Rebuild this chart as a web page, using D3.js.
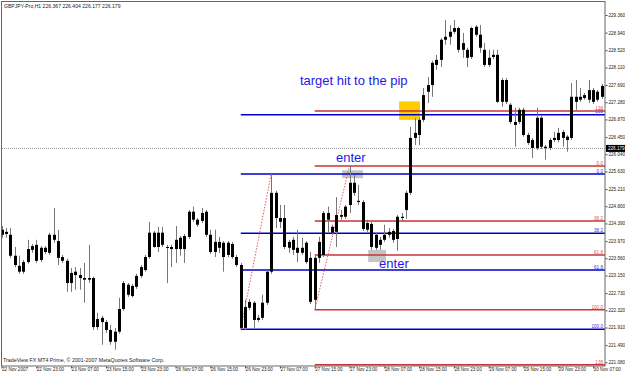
<!DOCTYPE html>
<html>
<head>
<meta charset="utf-8">
<script src="https://cdn.jsdelivr.net/npm/d3@7"></script>
<style>
  body { margin: 0; background: #fff; }
  svg { display: block; font-family: "Liberation Sans", Arial, sans-serif; }
</style>
</head>
<body>
<div id="chart"></div>
<script>
const width = 625;
const height = 375;

// header of the window
const symbol = 'GBPJPY-Pro,H1';
const lastOHLC = ['226.367', '226.404', '226.177', '226.179'];
const bid = 226.179;
const copyright = 'TradeView FX MT4 Prime, \u00a9 2001-2007 MetaQuotes Software Corp.';

// H1 candles (bar 0 = 22 Nov 15:00)
const opens = [224.24,224.19,224.12,223.62,223.38,223.24,223.47,223.76,223.88,223.52,
  223.81,223.69,224.12,223.97,223.59,223.50,222.97,223.24,223.16,223.09,
  223.09,223.09,221.92,222.14,222.04,221.85,221.57,221.81,222.35,222.93,
  222.66,222.88,223.14,223.28,223.59,224.17,223.83,224.17,223.83,223.78,
  223.78,223.78,223.78,224.07,224.67,224.48,224.45,224.67,224.12,223.71,
  223.95,223.93,223.64,223.90,223.59,223.40,221.90,222.52,222.50,222.09,
  222.14,222.50,223.24,225.12,224.52,224.52,223.95,223.76,223.81,223.69,
  223.93,223.57,222.57,223.57,223.64,224.64,224.31,224.19,224.55,224.55,
  224.83,225.36,224.93,224.90,224.24,224.38,223.81,224.00,224.00,224.12,
  224.21,224.02,224.55,224.71,225.12,226.55,226.50,226.86,227.69,227.69,
  228.29,228.29,228.77,228.84,228.96,229.05,228.53,228.53,228.36,229.08,
  228.89,228.53,228.34,228.36,228.41,227.29,227.81,227.22,226.81,226.81,
  227.10,226.50,226.38,226.19,226.91,226.22,226.19,226.38,226.38,226.57,
  226.46,226.43,227.41,227.34,227.38,227.34,227.57,227.34,227.41];
const highs = [224.33,224.28,224.28,223.83,223.62,223.52,224.00,223.90,224.00,223.85,
  223.85,224.17,224.76,224.24,223.64,223.55,223.33,223.35,223.33,223.45,
  223.88,223.12,222.26,222.19,222.09,221.97,221.90,222.62,223.02,222.97,
  222.95,223.19,223.40,223.64,224.43,224.21,224.31,224.31,223.88,223.88,
  224.33,224.09,224.14,224.71,224.79,224.52,224.76,224.71,224.24,224.24,
  224.07,223.97,223.97,223.95,223.64,223.45,222.57,222.59,222.54,222.21,
  222.69,223.28,225.57,225.17,224.83,224.83,224.00,224.07,224.24,224.05,
  223.97,223.71,223.62,224.07,224.69,224.79,224.36,225.02,224.71,224.83,
  225.76,225.55,225.31,224.95,224.48,224.43,224.17,224.07,224.36,224.28,
  224.26,224.59,224.64,225.17,226.69,226.91,226.91,227.62,227.88,228.27,
  228.41,228.81,229.24,229.12,229.24,229.08,228.93,228.58,229.08,229.12,
  229.12,228.69,228.53,228.53,228.53,227.86,227.86,227.26,227.15,227.15,
  227.15,226.55,226.43,227.15,226.95,226.26,226.43,226.57,226.67,226.62,
  226.50,227.74,227.81,227.62,227.50,227.81,227.62,227.57,227.72];
const lows = [224.05,224.05,223.57,223.35,223.19,223.19,223.43,223.69,223.45,223.47,
  223.66,223.64,223.93,223.40,223.45,222.76,222.76,222.81,222.81,222.50,
  222.97,221.85,221.85,221.50,221.78,221.50,221.38,221.76,222.31,222.64,
  222.62,222.83,223.09,223.24,223.55,223.81,223.71,223.83,222.97,223.35,
  223.45,223.62,223.45,224.02,224.43,224.31,224.40,224.07,223.66,223.59,
  223.69,223.24,223.59,223.55,223.35,221.87,221.85,222.33,221.90,222.04,
  222.09,222.45,223.19,224.28,224.28,223.78,223.69,223.64,223.47,223.64,
  223.43,222.47,222.33,223.45,223.59,224.17,224.12,223.83,224.48,224.50,
  224.64,225.05,224.83,224.21,224.19,223.76,223.76,223.76,223.95,224.05,
  223.93,223.74,224.43,224.50,225.07,226.26,226.26,226.81,227.26,227.41,
  228.05,228.12,228.65,228.65,228.91,228.46,228.34,228.12,228.31,228.84,
  228.46,228.12,228.12,228.31,227.26,227.17,227.24,226.76,226.22,226.76,
  226.46,226.26,225.95,226.14,226.17,225.91,226.14,226.33,226.33,226.22,
  226.10,226.38,227.10,227.29,227.34,227.26,227.24,227.29,227.36];
const closes = [224.12,224.14,223.62,223.40,223.24,223.47,223.78,223.85,223.50,223.81,
  223.71,224.12,224.00,223.57,223.50,222.97,223.21,223.16,223.09,223.05,
  223.05,221.92,222.11,222.04,221.85,221.57,221.81,222.35,222.97,222.69,
  222.90,223.14,223.35,223.59,224.17,223.83,224.17,223.88,223.81,223.83,
  224.00,224.05,224.09,224.67,224.48,224.36,224.64,224.12,223.71,223.95,
  223.81,223.59,223.93,223.59,223.40,221.90,222.40,222.38,222.09,222.14,
  222.50,223.24,225.12,224.52,224.43,223.83,223.81,224.00,223.69,223.81,
  223.47,222.52,223.57,223.95,224.64,224.48,224.17,224.59,224.59,224.79,
  225.36,225.12,224.90,224.26,224.40,223.83,224.12,223.88,224.12,224.19,
  224.00,224.55,224.52,225.12,226.43,226.43,226.86,227.45,227.53,228.22,
  228.17,228.77,228.84,228.96,229.05,228.53,228.69,228.34,229.05,228.89,
  228.58,228.17,228.17,228.41,227.29,227.81,227.29,226.81,226.74,227.10,
  226.50,226.31,226.19,226.91,226.22,226.19,226.38,226.43,226.55,226.43,
  226.38,227.41,227.29,227.41,227.45,227.57,227.29,227.53,227.67];

// axes
const priceTicks = [229.360, 228.940, 228.520, 228.110, 227.690, 227.280, 226.870,
  226.450, 226.040, 225.630, 225.210, 224.800, 224.390, 223.970, 223.560, 223.150,
  222.730, 222.320, 221.910, 221.490, 221.080];
const timeLabels = ['22 Nov 2007', '22 Nov 23:00', '23 Nov 07:00', '23 Nov 15:00',
  '23 Nov 23:00', '26 Nov 07:00', '26 Nov 15:00', '26 Nov 23:00', '27 Nov 07:00',
  '27 Nov 15:00', '27 Nov 23:00', '28 Nov 07:00', '28 Nov 15:00', '28 Nov 23:00',
  '29 Nov 07:00', '29 Nov 15:00', '29 Nov 23:00', '30 Nov 07:00'];
const timeBars = timeLabels.map((t, i) => i * 8);

// two fibonacci retracements (low bar -> high bar)
const fibFromBar = [55, 72];
const fibToBar = [62, 80];
const fibLow = [221.87, 222.33];
const fibHigh = [225.57, 225.76];
const fibLevels = [0, 38.2, 61.8, 100, 138.2, -38.2];
const fibLevelText = ['0.0', '38.2', '61.8', '100.0', '138', '138'];
const fibColor = ['#0000cc', '#cc3333'];
const fibTextColor = ['#3333dd', '#dd5555'];

// hand drawn notes
const noteText = ['target hit to the pip', 'enter', 'enter'];
const noteBar = [68.6, 76.9, 86.8];
const notePrice = [227.69, 225.85, 223.33];
const boxFromBar = [91.4, 78.3, 84.3];
const boxToBar = [96.2, 83.1, 88.4];
const boxLow = [226.86, 225.47, 223.47];
const boxHigh = [227.30, 225.66, 223.76];
const boxColor = ['#ffcc00', '#c4c4c4', '#c4c4c4'];

const plotRight = 605;
const plotBottom = 366;
const smallFont = 4.6;

const x = d3.scaleLinear().domain([0, opens.length - 1]).range([1.5, 1.5 + (opens.length - 1) * 4.35]);
const y = d3.scaleLinear().domain([221.08, 229.36]).range([362.3, 15]);

const svg = d3.select('#chart').append('svg')
  .attr('width', width)
  .attr('height', height);

svg.append('clipPath').attr('id', 'clip')
  .append('rect').attr('x', 1).attr('y', 1).attr('width', plotRight - 1).attr('height', plotBottom - 1);

const plot = svg.append('g').attr('clip-path', 'url(#clip)');

// boxes behind everything
plot.selectAll('rect.box')
  .data(boxColor)
  .join('rect')
  .attr('class', 'box')
  .attr('x', (d, i) => x(boxFromBar[i]))
  .attr('width', (d, i) => x(boxToBar[i]) - x(boxFromBar[i]))
  .attr('y', (d, i) => y(boxHigh[i]))
  .attr('height', (d, i) => y(boxLow[i]) - y(boxHigh[i]))
  .attr('fill', d => d);

// bid line
plot.append('line')
  .attr('x1', 0).attr('x2', plotRight)
  .attr('y1', Math.round(y(bid)) + 0.5).attr('y2', Math.round(y(bid)) + 0.5)
  .attr('stroke', '#999').attr('stroke-dasharray', '1,1');

// fibonacci levels
fibFromBar.forEach((start, f) => {
  const range = fibHigh[f] - fibLow[f];
  const levels = fibLevels
    .map((lv, k) => ({ price: fibHigh[f] - lv / 100 * range, text: fibLevelText[k] }))
    .filter(d => y(d.price) < plotBottom); // levels below the window are not shown
  const g = plot.append('g');
  g.selectAll('line')
    .data(levels)
    .join('line')
    .attr('x1', x(start)).attr('x2', plotRight)
    .attr('y1', d => y(d.price)).attr('y2', d => y(d.price))
    .attr('stroke', fibColor[f]).attr('stroke-width', 1.5);
  g.selectAll('text')
    .data(levels)
    .join('text')
    .attr('x', plotRight - 2)
    .attr('y', d => y(d.price) - 1.2)
    .attr('text-anchor', 'end')
    .attr('font-size', smallFont)
    .attr('fill', fibTextColor[f])
    .text(d => d.text);
  // dotted trend line of the fib
  plot.append('line')
    .attr('x1', x(start)).attr('y1', y(fibLow[f]))
    .attr('x2', x(fibToBar[f])).attr('y2', y(fibHigh[f]))
    .attr('stroke', '#e03030').attr('stroke-width', 0.8)
    .attr('stroke-dasharray', '1.5,1.5');
});

// candles
const bars = opens.map((o, i) => ({ i, o, h: highs[i], l: lows[i], c: closes[i] }));

plot.selectAll('line.wick')
  .data(bars)
  .join('line')
  .attr('class', 'wick')
  .attr('x1', d => Math.round(x(d.i)) + 0.5).attr('x2', d => Math.round(x(d.i)) + 0.5)
  .attr('y1', d => y(d.h)).attr('y2', d => y(d.l))
  .attr('stroke', '#777').attr('stroke-width', 1);

plot.selectAll('rect.body')
  .data(bars)
  .join('rect')
  .attr('class', 'body')
  .attr('x', d => Math.round(x(d.i)) - 1)
  .attr('width', 3)
  .attr('y', d => y(Math.max(d.o, d.c)))
  .attr('height', d => Math.max(1, Math.abs(y(d.o) - y(d.c))))
  .attr('fill', '#000');

// notes
plot.selectAll('text.note')
  .data(noteText)
  .join('text')
  .attr('class', 'note')
  .attr('x', (d, i) => x(noteBar[i]))
  .attr('y', (d, i) => y(notePrice[i]))
  .attr('font-size', 13)
  .attr('fill', '#1a1ae6')
  .text(d => d);

// frame
svg.append('rect')
  .attr('x', 1.5).attr('y', 1.5)
  .attr('width', plotRight - 1.5).attr('height', plotBottom - 1.5)
  .attr('fill', 'none').attr('stroke', '#666');

// price axis
const yAxis = svg.append('g')
  .attr('transform', `translate(${plotRight + 0.5},0)`)
  .call(d3.axisRight(y).tickValues(priceTicks).tickFormat(d3.format('.3f')).tickSize(2).tickPadding(1));
yAxis.select('.domain').remove();
yAxis.selectAll('line').attr('stroke', '#444');
yAxis.selectAll('text').attr('font-size', smallFont).attr('fill', '#222').attr('font-family', '"Liberation Sans", Arial, sans-serif');

// bid label
svg.append('rect')
  .attr('x', plotRight + 1).attr('y', y(bid) - 3.5)
  .attr('width', width - plotRight - 1).attr('height', 7)
  .attr('fill', '#000');
svg.append('text')
  .attr('x', plotRight + 3).attr('y', y(bid) + 1.7)
  .attr('font-size', smallFont).attr('fill', '#fff')
  .text(d3.format('.3f')(bid));

// time axis
const xAxis = svg.append('g')
  .attr('transform', `translate(0,${plotBottom + 0.5})`)
  .call(d3.axisBottom(x).tickValues(timeBars).tickFormat((d, i) => timeLabels[i]).tickSize(2).tickPadding(0));
xAxis.select('.domain').remove();
xAxis.selectAll('line').attr('stroke', '#444');
xAxis.selectAll('text')
  .attr('text-anchor', 'start')
  .attr('dy', '0.6em')
  .attr('font-size', smallFont).attr('fill', '#222')
  .attr('font-family', '"Liberation Sans", Arial, sans-serif')
  .attr('dx', function(d) {
    // keep the last label inside the window
    const room = width - 4 - x(d) - this.getComputedTextLength();
    return Math.min(0, room);
  });

// header and copyright
svg.append('text')
  .attr('x', 4).attr('y', 8)
  .attr('font-size', 5.1).attr('fill', '#222')
  .text(symbol + '  ' + lastOHLC.join(' '));
svg.append('text')
  .attr('x', 3).attr('y', 362)
  .attr('font-size', 5.3).attr('fill', '#222')
  .text(copyright);
</script>
</body>
</html>
